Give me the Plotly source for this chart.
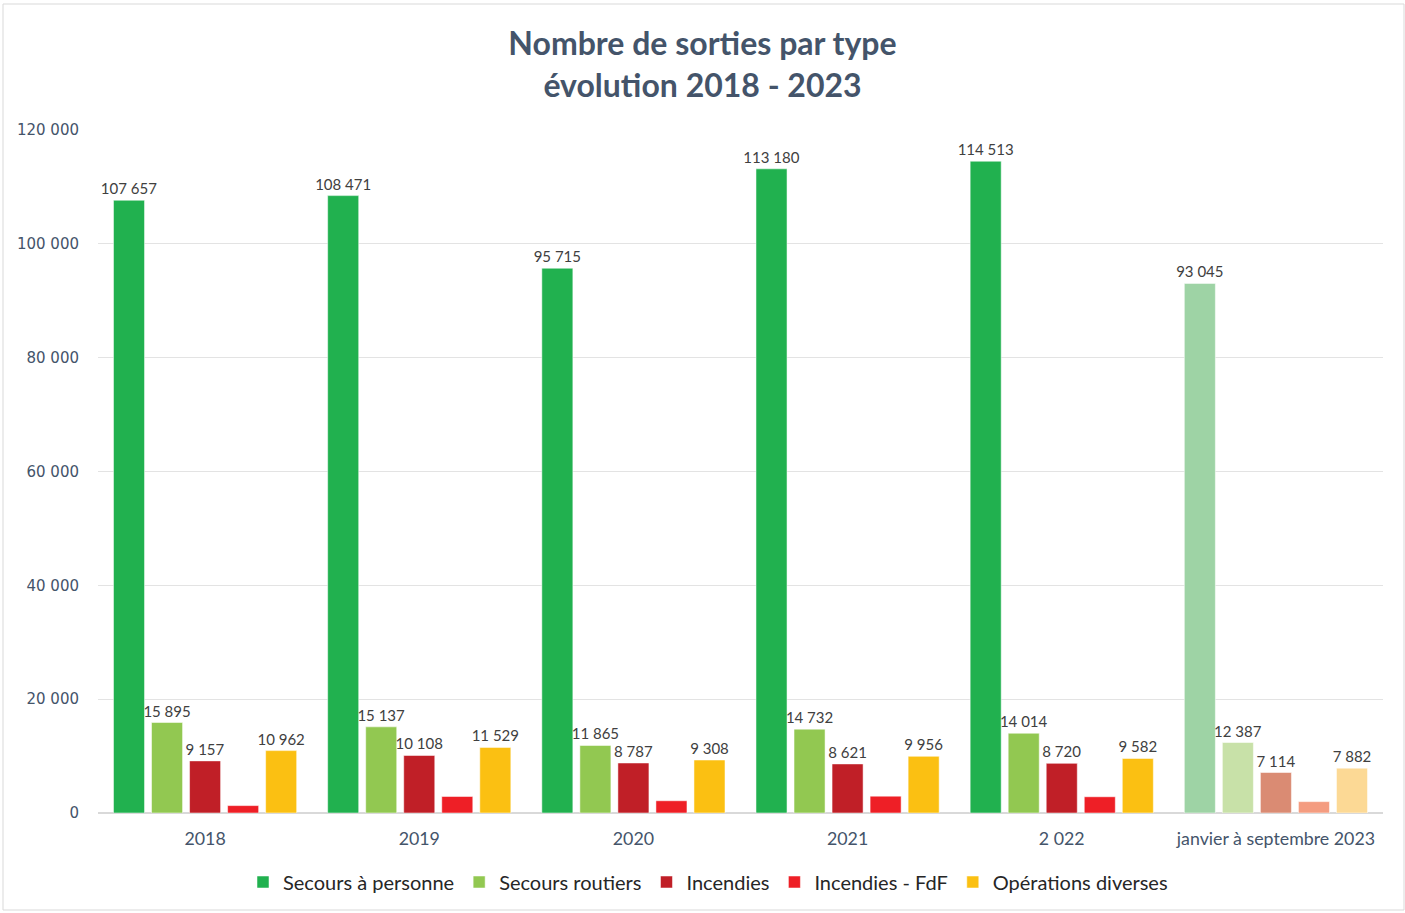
import plotly.graph_objects as go

# Categories and series values
categories = ["2018", "2019", "2020", "2021", "2 022", "janvier à septembre 2023"]
secours_personne = [107657, 108471, 95715, 113180, 114513, 93045]
secours_routiers = [15895, 15137, 11865, 14732, 14014, 12387]
incendies = [9157, 10108, 8787, 8621, 8720, 7114]
incendies_fdf = [1300, 2900, 2150, 2950, 2850, 2000]
operations_diverses = [10962, 11529, 9308, 9956, 9582, 7882]

y_ticks = [0, 20000, 40000, 60000, 80000, 100000, 120000]

# (name, values, colour for full years, colour for partial 2023, show labels)
series = [
    ("Secours à personne", secours_personne, "#21B14F", "#9ED3A5", True),
    ("Secours routiers", secours_routiers, "#92C851", "#C8E1A8", True),
    ("Incendies", incendies, "#C01F27", "#DA8B73", True),
    ("Incendies - FdF", incendies_fdf, "#EE1F26", "#F49C80", False),
    ("Opérations diverses", operations_diverses, "#FBC012", "#FCD995", True),
]

fig = go.Figure()
for name, vals, col, col_partial, labelled in series:
    colors = [col] * (len(categories) - 1) + [col_partial]
    fig.add_trace(go.Bar(
        name=name,
        x=categories,
        y=vals,
        marker=dict(color=colors, line=dict(color="rgba(255,255,255,0.5)", width=1)),
        texttemplate="%{y:,d}" if labelled else None,
        textposition="outside" if labelled else "none",
        constraintext="none",
        textfont=dict(family="Lato, sans-serif", size=15, color="#404040"),
        cliponaxis=False,
        hoverinfo="x+y+name",
    ))

fig.update_layout(
    width=1405,
    height=913,
    barmode="group",
    bargap=0.112,
    bargroupgap=0.184,
    separators=", ",
    paper_bgcolor="white",
    plot_bgcolor="white",
    margin=dict(l=98, r=22, t=130, b=100),
    title=dict(
        text="<b>Nombre de sorties par type<br>évolution 2018 - 2023</b>",
        x=0.5, xanchor="center",
        y=1 - 55 / 913, yanchor="middle",
        font=dict(family="Lato, sans-serif", size=32, color="#44546A"),
    ),
    xaxis=dict(
        showgrid=False,
        showline=True,
        linecolor="#D9D9D9",
        linewidth=1,
        ticks="",
        ticklabelstandoff=10,
        tickfont=dict(family="Lato, sans-serif", size=17.8, color="#44546A"),
    ),
    yaxis=dict(
        range=[0, 120000],
        tickvals=y_ticks,
        tickformat=",d",
        showgrid=True,
        gridcolor="#E3E3E3",
        gridwidth=1,
        zeroline=True,
        zerolinecolor="#D9D9D9",
        showline=False,
        ticks="",
        ticklabelstandoff=18,
        tickfont=dict(family="DejaVu Sans, sans-serif", size=15, color="#44546A"),
    ),
    legend=dict(
        orientation="h",
        x=(708 - 98) / 1285, xanchor="center",
        y=(813 - 882) / 683, yanchor="middle",
        font=dict(family="Lato, sans-serif", size=20, color="#262626"),
        itemwidth=30,
        traceorder="normal",
    ),
    shapes=[dict(
        type="rect", xref="paper", yref="paper",
        x0=(3 - 98) / 1285, x1=(1404 - 98) / 1285,
        y0=(813 - 910) / 683, y1=(813 - 4) / 683,
        line=dict(color="#D9D9D9", width=1),
        fillcolor="rgba(0,0,0,0)",
        layer="below",
    )],
)

fig.write_html("out.html")
